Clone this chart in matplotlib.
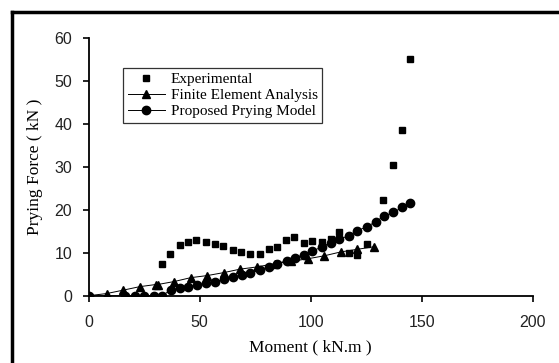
import matplotlib
matplotlib.use("Agg")
import matplotlib.pyplot as plt
from matplotlib.lines import Line2D

# Experimental (squares)
exp_x = [33.0, 36.6, 41.1, 44.6, 48.3, 52.7, 57.0, 60.7, 64.9, 68.8, 72.5, 77.1,
         81.2, 84.8, 88.9, 92.6, 96.8, 100.5, 105.2, 109.1, 112.8, 117.3, 117.4,
         120.8, 125.2, 132.5, 137.2, 141.0, 144.8]
exp_y = [7.3, 9.7, 11.8, 12.5, 13.0, 12.5, 12.1, 11.6, 10.6, 10.1, 9.7, 9.7,
         10.9, 11.3, 13.0, 13.6, 12.4, 12.8, 12.5, 13.2, 14.8, 13.9, 10.0,
         9.5, 12.0, 22.4, 30.5, 38.6, 55.1]

# Finite Element Analysis (triangles)
fea_x = [0, 8.1, 15.6, 22.9, 30.1, 31.0, 38.5, 45.9, 53.5, 61.0, 68.3, 75.7,
         84.0, 91.2, 98.6, 106.1, 113.5, 120.8, 128.4]
fea_y = [0, 0.5, 1.3, 2.1, 2.6, 2.6, 3.3, 4.2, 4.7, 5.4, 6.2, 6.7,
         7.5, 8.0, 8.6, 9.3, 10.2, 10.8, 11.4]

# Proposed Prying Model (circles)
ppm_x = [0, 16.4, 20.8, 25.1, 29.3, 33.0, 36.9, 41.1, 44.9, 48.6, 53.0, 57.0,
         61.0, 65.1, 69.1, 72.8, 77.1, 81.2, 84.8, 89.1, 92.9, 96.9, 100.8,
         105.1, 109.1, 112.9, 117.4, 120.9, 125.3, 129.2, 132.8, 137.2, 141.2, 144.9]
ppm_y = [0, 0, 0, 0, 0, 0, 1.3, 1.8, 2.1, 2.5, 2.9, 3.3,
         3.8, 4.4, 4.8, 5.4, 6.0, 6.8, 7.4, 8.2, 8.8, 9.6, 10.4,
         11.4, 12.4, 13.2, 14.0, 15.1, 16.1, 17.2, 18.5, 19.4, 20.6, 21.7]

serif = "Liberation Serif"
sans = "Liberation Sans"

fig = plt.figure(figsize=(5.59, 3.63), dpi=100)
ax = fig.add_axes([0.1587, 0.1854, 0.953 - 0.1587, 0.8945 - 0.1854])

# figure frame (left and top visible)
fig.add_artist(Line2D([0.021, 0.021], [0, 0.968], transform=fig.transFigure,
                      color="black", lw=2.5))
fig.add_artist(Line2D([0.021, 1.0], [0.968, 0.968], transform=fig.transFigure,
                      color="black", lw=2.5))

ax.plot(exp_x, exp_y, ls="none", marker="s", ms=3.8, color="black",
        label="Experimental", zorder=3)
ax.plot(fea_x, fea_y, ls="-", lw=0.7, marker="^", ms=6, color="black",
        label="Finite Element Analysis", zorder=2)
ax.plot(ppm_x, ppm_y, ls="-", lw=0.7, marker="o", ms=6, color="black",
        label="Proposed Prying Model", zorder=2)

ax.set_xlim(0, 200)
ax.set_ylim(0, 60)
ax.set_xticks([0, 50, 100, 150, 200])
ax.set_yticks([0, 10, 20, 30, 40, 50, 60])
ax.spines["top"].set_visible(False)
ax.spines["right"].set_visible(False)
ax.spines["left"].set_linewidth(1.3)
ax.spines["bottom"].set_linewidth(1.3)
ax.tick_params(direction="out", length=4, width=1.2, labelsize=11.5)
ax.tick_params(axis="x", pad=10)
ax.tick_params(axis="y", pad=8)
for lab in ax.get_xticklabels() + ax.get_yticklabels():
    lab.set_fontfamily(sans)
    lab.set_color("#222222")
ax.patch.set_alpha(0)

ax.set_xlabel("Moment ( kN.m )", fontfamily=serif, fontsize=12.5, labelpad=7)
ax.set_ylabel("Prying Force ( kN )", fontfamily=serif, fontsize=12.5, labelpad=8)

leg = ax.legend(loc="upper left", bbox_to_anchor=(0.078, 0.885), frameon=True,
                fancybox=False, prop={"family": serif, "size": 11},
                handlelength=2.4, handletextpad=0.4, borderpad=0.3,
                labelspacing=0.15, borderaxespad=0)
leg.get_frame().set_edgecolor("black")
leg.get_frame().set_linewidth(0.9)

fig.savefig("out.png", dpi=100)
